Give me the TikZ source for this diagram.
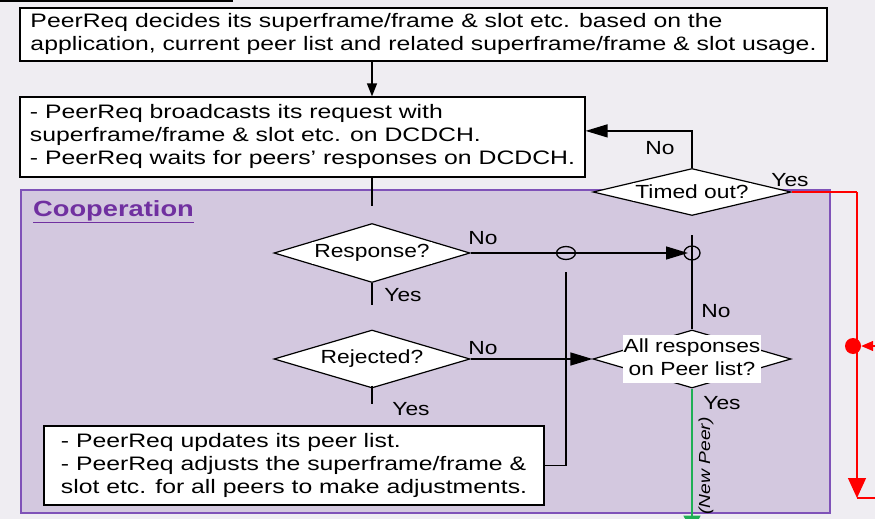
\documentclass[tikz,border=0pt]{standalone}
\usepackage{fontspec}
\setmainfont{Liberation Sans}
\usetikzlibrary{arrows.meta,shapes.geometric}
\definecolor{bgc}{HTML}{EFEDF2}
\definecolor{coopfill}{HTML}{D3C8DF}
\definecolor{coopline}{HTML}{7F52B8}
\definecolor{cooptext}{HTML}{7030A0}
\definecolor{greenline}{HTML}{1FAF55}
\newcommand{\hs}[1]{\scalebox{1.2}[1]{#1}}
\newcommand{\ml}[1]{\scalebox{1.27}[1]{\begin{tabular}{@{}l@{}}#1\end{tabular}}}
\newcommand{\mc}[1]{\hs{\begin{tabular}{@{}c@{}}#1\end{tabular}}}
\tikzset{
  txt/.style={font=\fontsize{19}{23}\selectfont},
  textbox/.style={draw, fill=white, line width=1.2pt, inner sep=0pt, font=\fontsize{19.5}{23}\selectfont},
  dia/.style={diamond, draw, fill=white, line width=1.2pt, inner sep=0pt},
  dlab/.style={fill=white, inner sep=2pt, txt},
  lab/.style={inner sep=0pt, txt},
  conn/.style={line width=1.3pt},
  smallarr/.style={conn, -{Triangle[length=13pt,width=10pt]}},
  arr/.style={conn, -{Triangle[length=22pt,width=13pt]}},
  redarr/.style={line width=1.3pt, red, -{Triangle[length=20pt,width=18pt]}},
  redin/.style={line width=1.3pt, red, -{Triangle[length=12pt,width=10pt]}},
  grnarr/.style={line width=1.5pt, greenline, -{Triangle[length=16pt,width=17pt]}},
}
\begin{document}
\begin{tikzpicture}[x=1pt,y=-1pt]
\useasboundingbox (0,0) rectangle (875,519);
\fill[bgc] (0,0) rectangle (875,519);
\draw[line width=2pt] (0,0.8) -- (233,0.8);
% cooperation region
\draw[fill=coopfill, draw=coopline, line width=1.5pt] (21,190) rectangle (830,513);
\node[anchor=west, inner sep=0pt, text=cooptext, font=\fontsize{22}{26}\selectfont\bfseries] (coop) at (33,212) {\scalebox{1.24}[1]{\underline{Cooperation}}};

% nodes
\node[textbox, minimum width=807pt, minimum height=53pt] (box1) at (423.5,34.5)
  {\ml{PeerReq decides its superframe/frame \& slot etc. based on the\\application, current peer list and related superframe/frame \& slot usage.}};
\node[textbox, minimum width=565pt, minimum height=80pt] (box2) at (302.5,137)
  {\ml{- PeerReq broadcasts its request with\\superframe/frame \& slot etc. on DCDCH.\\- PeerReq waits for peers’ responses on DCDCH.}};
\node[textbox, minimum width=500pt, minimum height=79pt] (box3) at (294,465.5)
  {\ml{- PeerReq updates its peer list.\\- PeerReq adjusts the superframe/frame \&\\slot etc. for all peers to make adjustments.}};

\node[dia, minimum width=198pt, minimum height=47pt] (tmo) at (692,192) {};
\node[dlab] (tmol) at (tmo.center) {\hs{Timed out?}};
\node[dia, minimum width=196pt, minimum height=59pt] (resp) at (372,253) {};
\node[dlab] (respl) at (resp.center) {\hs{Response?}};
\node[dia, minimum width=196pt, minimum height=58pt] (rej) at (372,359) {};
\node[dlab] (rejl) at (rej.center) {\hs{Rejected?}};
\node[dia, minimum width=198pt, minimum height=58pt] (allr) at (692,359) {};
\node[dlab, inner sep=1pt] (allrl) at (allr.center) {\mc{All responses\\on Peer list?}};

% connectors
\draw[smallarr] (resp |- box1.south) -- (resp |- box2.north);
\draw[conn] (resp |- box2.south) -- ++(0,28) coordinate (b2end);
\draw[arr] (tmo.north) -- ++(0,-37) coordinate (t1) -- (t1 -| box2.east);
\node[lab] (tno) at (660,148) {\hs{No}};
\draw[line width=1.3pt, red] (tmo.east) -- (857,192) coordinate (r1);
\draw[redarr] (r1) -- (857,498) coordinate (r2);
\draw[line width=1.3pt, red] (r2) -- (878,498);
\node[lab] (tyes) at (790,180) {\hs{Yes}};
\node[circle, fill=red, minimum size=16pt, inner sep=0pt] (dot) at (853,346) {};
\coordinate (rin) at (880,346);
\draw[redin] (rin) -- (dot.east);

% response
\coordinate (hop1) at (566,253);
\coordinate (hop2) at (692,253);
\draw[conn] (resp.east) -- (hop1);
\draw[arr] (hop1) -- ([xshift=-4pt]hop2);
\draw[conn] (hop1) ellipse [x radius=9.5pt, y radius=6.5pt];
\draw[conn] (hop2) ellipse [x radius=8pt, y radius=7pt];
\node[lab] (rno) at (483,238) {\hs{No}};
\draw[conn] (resp.south) -- ++(0,22);
\node[lab] (ryes) at (403,295) {\hs{Yes}};
\draw[conn] (692,235) -- (allr.north);
\node[lab] (ano) at (716,311) {\hs{No}};

% rejected
\draw[arr] (rej.east) -- (allr.west);
\node[lab] (jno) at (483,348) {\hs{No}};
\draw[conn] ([yshift=3pt]rej.south) -- ++(0,18);
\node[lab] (jyes) at (411,409) {\hs{Yes}};

% update loop
\draw[conn] (box3.east) -| (566,272);

% all responses yes
\draw[grnarr] (allr.south) -- ++(0,143);
\node[lab] (ayes) at (722,403) {\hs{Yes}};
\node[inner sep=0pt, rotate=90, font=\fontsize{16}{18}\selectfont\itshape] (newp) at (706,466) {\hs{(New Peer)}};
\end{tikzpicture}
\end{document}
